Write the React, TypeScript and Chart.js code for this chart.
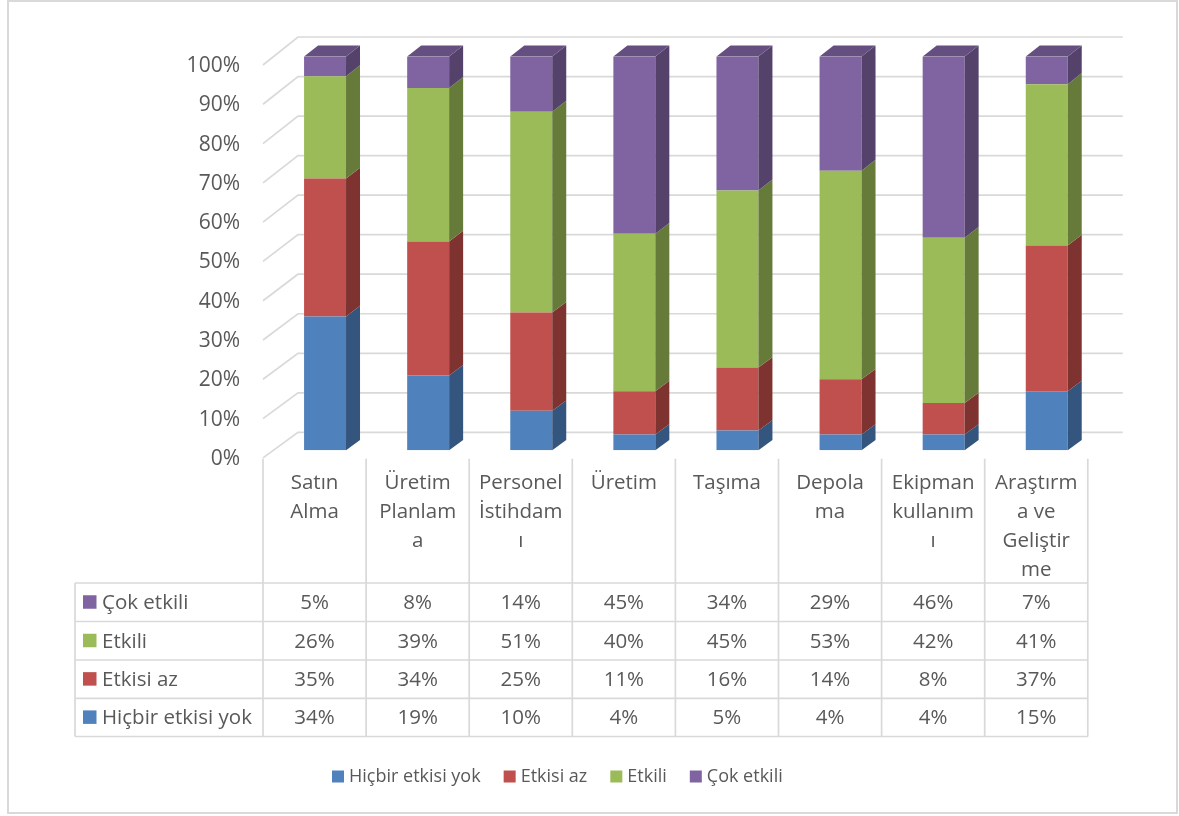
import React, { useEffect, useRef } from "react";
import { Chart, registerables } from "chart.js";

Chart.register(...registerables);

// ---- data ----
const categoryLines: string[][] = [
  ["Satın", "Alma"],
  ["Üretim", "Planlam", "a"],
  ["Personel", "İstihdam", "ı"],
  ["Üretim"],
  ["Taşıma"],
  ["Depola", "ma"],
  ["Ekipman", "kullanım", "ı"],
  ["Araştırm", "a ve", "Geliştir", "me"],
];
const seriesNames = ["Hiçbir etkisi yok", "Etkisi az", "Etkili", "Çok etkili"];
const hicbirEtkisiYok = [34, 19, 10, 4, 5, 4, 4, 15];
const etkisiAz = [35, 34, 25, 11, 16, 14, 8, 37];
const etkili = [26, 39, 51, 40, 45, 53, 42, 41];
const cokEtkili = [5, 8, 14, 45, 34, 29, 46, 7];
const yTickValues = [0, 10, 20, 30, 40, 50, 60, 70, 80, 90, 100];

// ---- styles ----
const FONT = "'Open Sans', sans-serif";
const TEXT = "#595959";
const GRID = "#D9D9D9";
const faceColors = ["#4F81BD", "#C0504D", "#9BBB59", "#8064A2"];
const sideColors = ["#34557E", "#7F3331", "#667B3A", "#54426B"];
const topColors = ["#3E6595", "#983F3D", "#7B9447", "#654F81"];

const DEPTH_X = 35;
const FRONT_FRAC = 0.3;
const BAR_FRAC = 0.4;
const depthY = (v: number) => 25.5 + (2.5 * v) / 100;

const W = 1179;
const H = 816;

const threeD = {
  id: "threeD",
  beforeDatasetsDraw(chart: any) {
    const ctx = chart.ctx as CanvasRenderingContext2D;
    const y = chart.scales.y;
    const area = chart.chartArea;
    ctx.save();
    // outer frame
    ctx.strokeStyle = GRID;
    ctx.lineWidth = 2;
    ctx.strokeRect(8, 1, 1169, 812);

    const fx = area.left - FRONT_FRAC * DEPTH_X;
    const bxL = area.left + (1 - FRONT_FRAC) * DEPTH_X;
    const bxR = area.right + (1 - FRONT_FRAC) * DEPTH_X;
    ctx.lineWidth = 1.7;
    ctx.strokeStyle = GRID;
    for (const v of yTickValues) {
      const yb = y.getPixelForValue(v);
      const yF = yb + FRONT_FRAC * depthY(v);
      const yB = yb - (1 - FRONT_FRAC) * depthY(v);
      ctx.beginPath();
      ctx.moveTo(fx, yF);
      ctx.lineTo(bxL, yB);
      ctx.lineTo(bxR, yB);
      ctx.stroke();
      // tick label
      ctx.fillStyle = TEXT;
      ctx.font = `21px ${FONT}`;
      ctx.textAlign = "right";
      ctx.textBaseline = "middle";
      ctx.fillText(v + "%", 240, yF + 1);
    }
    ctx.restore();
  },
  afterDatasetsDraw(chart: any) {
    const ctx = chart.ctx as CanvasRenderingContext2D;
    const yS = chart.scales.y;
    const sdx = BAR_FRAC * DEPTH_X;
    const n = categoryLines.length;
    const nd = chart.data.datasets.length;
    ctx.save();
    for (let i = 0; i < n; i++) {
      let topIdx = -1;
      for (let d = 0; d < nd; d++) {
        const val = chart.data.datasets[d].data[i];
        if (val > 0) topIdx = d;
      }
      let cum = 0;
      for (let d = 0; d < nd; d++) {
        const val = chart.data.datasets[d].data[i];
        const el = chart.getDatasetMeta(d).data[i];
        const xr = el.x + el.width / 2;
        const xl = el.x - el.width / 2;
        const vb = cum;
        const vt = cum + val;
        cum = vt;
        const yt = yS.getPixelForValue(vt);
        const yb = yS.getPixelForValue(vb);
        const dyt = BAR_FRAC * depthY(vt);
        const dyb = BAR_FRAC * depthY(vb);
        ctx.fillStyle = sideColors[d];
        ctx.beginPath();
        ctx.moveTo(xr, yt);
        ctx.lineTo(xr + sdx, yt - dyt);
        ctx.lineTo(xr + sdx, yb - dyb);
        ctx.lineTo(xr, yb);
        ctx.closePath();
        ctx.fill();
        if (d === topIdx) {
          ctx.fillStyle = topColors[d];
          ctx.beginPath();
          ctx.moveTo(xl, yt);
          ctx.lineTo(xl + sdx, yt - dyt);
          ctx.lineTo(xr + sdx, yt - dyt);
          ctx.lineTo(xr, yt);
          ctx.closePath();
          ctx.fill();
        }
      }
    }
    ctx.restore();
  },
  afterDraw(chart: any) {
    const ctx = chart.ctx as CanvasRenderingContext2D;
    const xS = chart.scales.x;
    const yS = chart.scales.y;
    const n = categoryLines.length;
    const catW = (chart.chartArea.right - chart.chartArea.left) / n;
    const shift = -FRONT_FRAC * DEPTH_X;
    const colLeft = (i: number) => xS.getPixelForValue(i) - catW / 2 + shift;
    const headerTop = yS.getPixelForValue(0) + FRONT_FRAC * depthY(0) + 1;
    const rowLines = [583, 621.5, 660, 698.3, 736.5];
    const tableLeft = 75;
    const tableRight = colLeft(n - 1) + catW;

    ctx.save();
    ctx.strokeStyle = GRID;
    ctx.lineWidth = 1.7;
    // vertical lines
    for (let i = 0; i <= n; i++) {
      const x = i < n ? colLeft(i) : tableRight;
      ctx.beginPath();
      ctx.moveTo(x, headerTop);
      ctx.lineTo(x, rowLines[rowLines.length - 1]);
      ctx.stroke();
    }
    ctx.beginPath();
    ctx.moveTo(tableLeft, rowLines[0]);
    ctx.lineTo(tableLeft, rowLines[rowLines.length - 1]);
    ctx.stroke();
    for (const ry of rowLines) {
      ctx.beginPath();
      ctx.moveTo(tableLeft, ry);
      ctx.lineTo(tableRight, ry);
      ctx.stroke();
    }

    // header text
    ctx.fillStyle = TEXT;
    ctx.font = `20.5px ${FONT}`;
    ctx.textAlign = "center";
    ctx.textBaseline = "middle";
    for (let i = 0; i < n; i++) {
      const cx = colLeft(i) + catW / 2;
      categoryLines[i].forEach((line, k) => {
        ctx.fillText(line, cx, 483 + k * 29);
      });
    }

    // rows (reverse order: top series first)
    const seriesData = chart.data.datasets.map((ds: any) => ds.data);
    for (let r = 0; r < 4; r++) {
      const d = 3 - r;
      const cy = (rowLines[r] + rowLines[r + 1]) / 2;
      ctx.fillStyle = faceColors[d];
      ctx.fillRect(83, cy - 7, 13.5, 13.5);
      ctx.fillStyle = TEXT;
      ctx.textAlign = "left";
      ctx.fillText(seriesNames[d], 102, cy + 1);
      ctx.textAlign = "center";
      for (let i = 0; i < n; i++) {
        const cx = colLeft(i) + catW / 2;
        ctx.fillText(seriesData[d][i] + "%", cx, cy + 1);
      }
    }

    // legend
    ctx.font = `18px ${FONT}`;
    ctx.textAlign = "left";
    let lx = 332;
    const ly = 777;
    for (let d = 0; d < 4; d++) {
      ctx.fillStyle = faceColors[d];
      ctx.fillRect(lx, ly - 6.5, 12, 12);
      ctx.fillStyle = TEXT;
      const tx = lx + 17;
      ctx.fillText(seriesNames[d], tx, ly);
      lx = tx + ctx.measureText(seriesNames[d]).width + 23;
    }
    ctx.restore();
  },
};

export default function App() {
  const ref = useRef<HTMLCanvasElement | null>(null);
  useEffect(() => {
    if (!ref.current) return;
    const series = [hicbirEtkisiYok, etkisiAz, etkili, cokEtkili];
    const chart = new Chart(ref.current, {
      type: "bar",
      data: {
        labels: categoryLines.map((l) => l.join("")),
        datasets: series.map((data, d) => ({
          label: seriesNames[d],
          data,
          backgroundColor: faceColors[d],
          borderWidth: 0,
          barPercentage: 0.407,
          categoryPercentage: 1,
        })),
      },
      options: {
        responsive: false,
        animation: false,
        layout: { padding: { left: 273.5, right: 80.7, top: 56.6, bottom: 365.8 } },
        plugins: { legend: { display: false }, tooltip: { enabled: false } },
        scales: {
          x: { stacked: true, display: false },
          y: { stacked: true, display: false, min: 0, max: 100 },
        },
      },
      plugins: [threeD],
    });
    return () => chart.destroy();
  }, []);
  return (
    <div style={{ position: "absolute", left: 0, top: 0, width: W, height: H, background: "#fff" }}>
      <canvas ref={ref} width={W} height={H} style={{ width: W, height: H, display: "block" }} />
    </div>
  );
}
